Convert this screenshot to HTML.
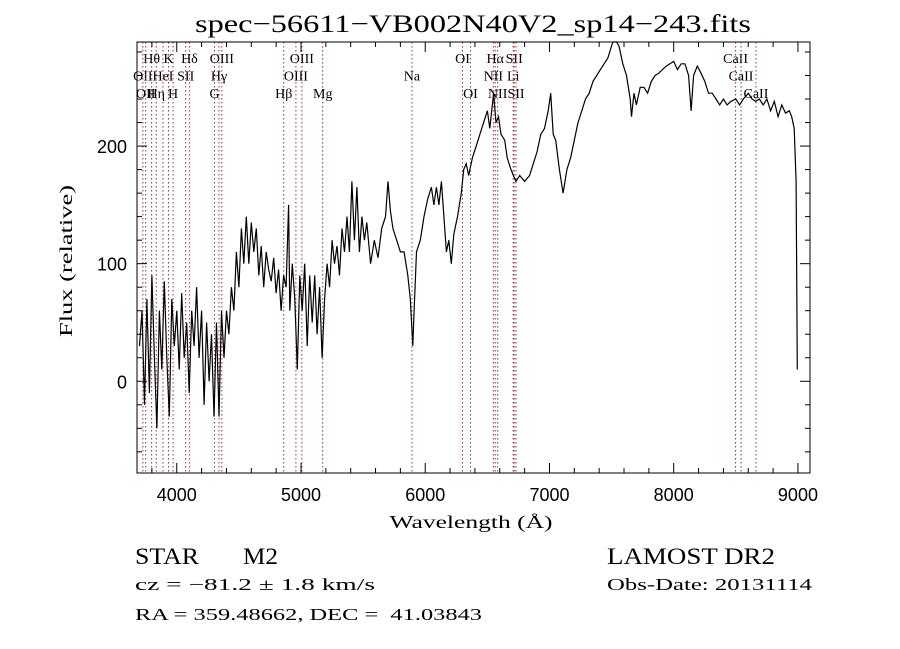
<!DOCTYPE html>
<html><head><meta charset="utf-8"><style>
html,body{margin:0;padding:0;background:#fff;}
svg{display:block;}
.s{font-family:"Liberation Serif",serif;fill:#000;}
.a{font-family:"Liberation Sans",sans-serif;fill:#000;}
</style></head><body>
<svg id="c" width="900" height="649" viewBox="0 0 900 649">
<rect width="900" height="649" fill="#fff"/>
<text class="s" x="473" y="32" font-size="25" text-anchor="middle" textLength="556" lengthAdjust="spacingAndGlyphs">spec−56611−VB002N40V2_sp14−243.fits</text>
<g id="lines"></g>
<g id="ticks"></g>
<path id="spec" fill="none" stroke="#000" stroke-width="1.2"/>
<rect x="137" y="42" width="673" height="431" fill="none" stroke="#000" stroke-width="1"/>
<text class="s" x="471" y="528" font-size="18" text-anchor="middle" textLength="163" lengthAdjust="spacingAndGlyphs">Wavelength (Å)</text>
<text class="s" x="0" y="0" font-size="18" text-anchor="middle" transform="translate(72,261) rotate(-90)" textLength="152" lengthAdjust="spacingAndGlyphs">Flux (relative)</text>
<text class="s" x="135" y="564" font-size="23" textLength="64" lengthAdjust="spacingAndGlyphs">STAR</text>
<text class="s" x="243" y="564" font-size="23" textLength="35" lengthAdjust="spacingAndGlyphs">M2</text>
<text class="s" x="607" y="564" font-size="23" textLength="168" lengthAdjust="spacingAndGlyphs">LAMOST DR2</text>
<text class="s" x="135" y="590" font-size="17" textLength="240" lengthAdjust="spacingAndGlyphs">cz = −81.2 ± 1.8 km/s</text>
<text class="s" x="607" y="590" font-size="17" textLength="205" lengthAdjust="spacingAndGlyphs">Obs-Date: 20131114</text>
<text class="s" x="135" y="620" font-size="17" textLength="347" lengthAdjust="spacingAndGlyphs" xml:space="preserve" style="white-space:pre">RA = 359.48662, DEC =  41.03843</text>
</svg>
<script>
const wave=[3700,3720,3740,3760,3780,3800,3820,3840,3860,3880,3900,3920,3940,3960,3980,4000,4020,4040,4060,4080,4100,4120,4140,4160,4180,4200,4220,4240,4260,4280,4300,4320,4340,4360,4380,4400,4420,4440,4460,4480,4500,4520,4540,4560,4580,4600,4620,4640,4660,4680,4700,4720,4740,4760,4780,4800,4820,4840,4860,4880,4900,4910,4930,4950,4970,4990,5010,5030,5050,5070,5090,5110,5130,5150,5170,5190,5210,5230,5250,5270,5290,5310,5330,5350,5370,5390,5410,5430,5450,5470,5490,5510,5530,5560,5590,5620,5650,5680,5700,5720,5740,5770,5800,5830,5860,5880,5900,5910,5930,5960,5990,6020,6050,6070,6090,6110,6130,6150,6170,6190,6210,6230,6260,6290,6310,6330,6350,6380,6410,6440,6470,6500,6520,6550,6570,6590,6610,6640,6660,6690,6710,6730,6760,6800,6840,6870,6900,6930,6960,6990,7010,7030,7050,7080,7110,7140,7170,7200,7230,7260,7290,7320,7350,7380,7410,7440,7470,7510,7540,7560,7590,7620,7650,7660,7680,7700,7730,7760,7790,7820,7850,7880,7910,7940,7970,8000,8030,8060,8090,8120,8140,8160,8190,8220,8250,8280,8310,8340,8370,8400,8430,8460,8500,8530,8560,8600,8630,8660,8690,8720,8750,8780,8810,8840,8870,8900,8930,8950,8970,8985,8995];
const flux=[30,60,-20,70,-10,90,20,-40,60,10,85,20,-30,70,30,60,10,75,20,50,-10,60,30,80,20,60,-20,50,0,40,-30,50,-30,60,20,60,40,80,60,110,80,130,100,140,100,135,110,130,90,115,80,110,95,85,105,75,95,60,90,80,150,60,100,70,10,90,60,100,30,90,50,90,40,80,20,70,100,80,120,100,115,90,130,110,140,110,170,120,165,110,140,120,135,100,120,105,130,140,170,145,130,120,110,110,90,70,30,60,110,120,140,155,165,150,165,150,170,140,110,120,100,125,140,160,180,185,175,190,200,210,220,230,215,245,220,225,210,205,190,180,175,170,175,170,175,185,195,210,215,230,245,210,205,180,160,180,190,205,220,230,240,245,255,260,265,270,275,290,290,285,270,260,240,225,245,235,250,250,245,255,260,262,265,268,270,272,265,270,270,260,230,260,268,262,255,245,245,240,235,240,235,238,240,235,240,245,240,238,240,235,240,230,238,225,235,228,230,225,215,170,10];
const xTicks=[4000,5000,6000,7000,8000,9000];
const yTicks=[0,100,200];
const lineWave=[3798,3934,4102,4363,5007,6300,6563,6716,8498,3727,3889,4072,4340,4959,5893,6548,6708,8542,3750,3835,3970,4304,4861,5175,6364,6583,6731,8662];
const lineLabel=["Hθ","K","Hδ","OIII","OIII","OI","Hα","SII","CaII","OII","HeI","SII","Hγ","OIII","Na","NII","Li","CaII","OII","Hη","H","G","Hβ","Mg","OI","NII","SII","CaII"];
const lineRow=[0,0,0,0,0,0,0,0,0,1,1,1,1,1,1,1,1,1,2,2,2,2,2,2,2,2,2,2];

const X0=137,X1=810,Y0=42,Y1=473,WMIN=3680,WMAX=9097,FMIN=-78,FMAX=288.5;
const xs=w=>X0+(w-WMIN)/(WMAX-WMIN)*(X1-X0);
const ys=f=>Y1-(f-FMIN)/(FMAX-FMIN)*(Y1-Y0);
const NS="http://www.w3.org/2000/svg";
function mk(tag,attrs,parent){const e=document.createElementNS(NS,tag);for(const k in attrs)e.setAttribute(k,attrs[k]);parent.appendChild(e);return e;}

let d="";
for(let i=0;i<wave.length;i++){d+=(i?"L":"M")+xs(wave[i]).toFixed(1)+","+Math.max(Y0,Math.min(Y1,ys(flux[i]))).toFixed(1);}
document.getElementById('spec').setAttribute('d',d);

const lg=document.getElementById('lines');
for(let i=0;i<lineWave.length;i++){
  const x=xs(lineWave[i]);
  const l=mk('line',{x1:x,x2:x,y1:Y0,y2:Y1,stroke:'#9a3030','stroke-width':1,'stroke-dasharray':'1.5,2.5'},lg);
  
  
  const t=mk('text',{x:x,y:63+lineRow[i]*17.5,'font-size':14,'text-anchor':'middle',class:'s'},lg);
  t.textContent=lineLabel[i];
  
  
}

const tg=document.getElementById('ticks');
for(let w=3800;w<=9000;w+=200){
  const x=xs(w),L=(w%1000===0)?10:5;
  mk('line',{x1:x,x2:x,y1:Y1,y2:Y1-L,stroke:'#000'},tg);
  mk('line',{x1:x,x2:x,y1:Y0,y2:Y0+L,stroke:'#000'},tg);
}
for(let f=-60;f<=280;f+=20){
  const y=ys(f),L=(f%100===0)?10:5;
  mk('line',{x1:X0,x2:X0+L,y1:y,y2:y,stroke:'#000'},tg);
  mk('line',{x1:X1,x2:X1-L,y1:y,y2:y,stroke:'#000'},tg);
}
xTicks.forEach(w=>{
  const t=mk('text',{x:xs(w),y:501,'font-size':18,'text-anchor':'middle',class:'a'},tg);
  t.textContent=w;
  
  
});
yTicks.forEach(f=>{
  const t=mk('text',{x:127,y:ys(f)+7,'font-size':18,'text-anchor':'end',class:'a'},tg);
  t.textContent=f;
  
  
});
</script>
</body></html>
